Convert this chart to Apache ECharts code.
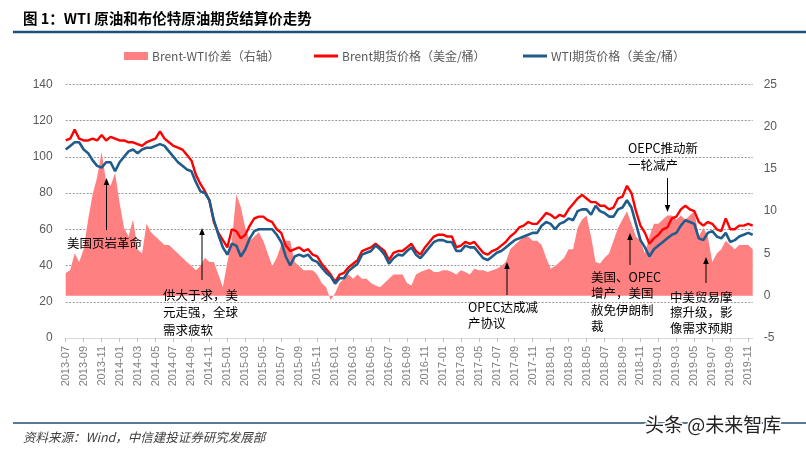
<!DOCTYPE html>
<html><head><meta charset="utf-8">
<script src="https://cdn.jsdelivr.net/npm/echarts/dist/echarts.min.js"></script>
<style>html,body{margin:0;padding:0;background:#fff}#c{width:806px;height:452px}</style>
</head><body><div id="c"></div>
<script>
// ---- axis categories: two points per month, 2013-07 .. 2019-11 ----
const startYear = 2013, startMonth = 7, monthCount = 77;
const categories = [];
for (let i = 0; i < monthCount; i++) {
  const y = startYear + Math.floor((startMonth - 1 + i) / 12);
  const m = (startMonth - 1 + i) % 12 + 1;
  const ym = y + '-' + String(m).padStart(2, '0');
  categories.push(ym + '-01', ym + '-16');
}

// ---- Brent futures settlement (USD/bbl) ----
const brent = [
 109,110,115,110,109,109,110,109,112,109,
 111,110,109,109,108,108,107,106,108,109,
 110,114,110,108,106,105,104,101,98,90,
 85,81,76,64,58,54,50,60,59,55,
 57,62,66,67,67,65,64,60,58,51,
 48,49,50,48,49,46,45,41,38,35,
 31,35,36,39,41,43,48,49,50,52,
 50,48,43,47,48,48,50,52,48,46,
 50,53,56,57,57,56,56,50,51,53,
 52,53,50,47,46,48,49,51,53,56,
 58,61,62,64,63,63,66,69,68,66,
 68,67,71,74,77,79,77,75,75,73,
 73,71,72,77,78,84,80,70,62,58,
 52,55,57,60,61,66,67,71,73,71,
 70,64,62,64,63,60,59,66,60,60,
 62,62,63,62
];

// ---- WTI futures settlement (USD/bbl) ----
const wti = [
 104,106,108,108,104,102,98,95,94,97,
 97,92,97,100,103,104,102,104,105,105,
 106,107,106,103,100,97,95,93,92,86,
 81,80,76,65,57,50,46,52,51,45,
 49,55,59,60,60,60,60,57,53,45,
 40,45,46,45,46,43,42,39,36,34,
 30,33,33,37,39,41,46,47,48,51,
 49,46,41,44,46,45.5,48,50,46,44,
 47,50,53,54,54,53,53,48,48,51,
 50,50,47,44,43,45,47,48,50,52,
 54,55,56,57,58,58,62,64,63,60,
 63,64,66,65,70,71,71,68,73,70,
 69,67,67,71,72,76,72,63,54,50,
 45,49,51,53,55,57,58,62,65,64,
 63,55,54,58,59,56,55,58,53,54,
 56,57,58,57
];

// ---- Brent-WTI spread (USD/bbl, right axis) ----
const spread = [
 2.7,3.0,5.0,4.0,5.5,9.0,12.0,14.0,17.0,13.5,
 13.0,14.5,11.0,8.0,7.0,9.0,5.5,5.0,8.5,7.5,
 7.0,6.5,6.0,6.0,5.5,5.0,4.5,4.0,3.5,3.0,
 3.5,4.5,4.0,4.0,2.5,1.0,4.0,6.5,12.0,10.5,
 8.0,6.5,7.0,7.5,6.5,5.0,3.5,4.5,6.0,6.5,
 6.5,4.0,3.5,3.0,3.0,3.0,2.5,1.5,1.0,-0.5,
 0.3,1.5,2.0,2.5,2.0,2.5,2.0,2.0,1.5,1.2,
 1.0,1.5,2.0,2.5,2.5,2.5,1.5,1.2,2.5,2.8,
 3.0,3.2,2.8,2.8,3.0,3.0,2.8,2.5,3.0,2.8,
 2.5,3.2,3.0,3.0,2.8,3.0,3.2,3.5,4.0,5.5,
 6.0,6.5,7.0,7.0,6.5,6.5,6.0,4.5,3.2,3.5,
 4.0,4.5,5.5,5.5,8.0,9.0,9.5,7.0,4.0,3.8,
 4.5,5.0,6.5,8.0,9.0,10.0,8.5,7.0,6.5,5.0,
 7.0,8.5,8.5,9.0,9.5,9.5,9.0,9.5,9.0,9.5,
 10.0,7.0,8.0,7.0,4.0,5.0,5.5,6.5,6.0,5.5,
 6.0,6.0,6.0,5.5
];

const leftTicks = {min: 0, max: 140, interval: 20};
const rightTicks = {min: -5, max: 25, interval: 5};

const names = ['Brent-WTI价差（右轴）', 'Brent期货价格（美金/桶）', 'WTI期货价格（美金/桶）'];
const colors = ['#FF8080', '#FF0000', '#1F5C8C'];

const FONT = '"Noto Sans CJK SC", "Noto Sans", sans-serif';

function arrow(x, yFrom, yTo) {
  const dir = yTo < yFrom ? 1 : -1; // 1 = pointing up
  const headLen = 7, headHalf = 2.8;
  return [
    {type: 'line', silent: true, z: 100,
     shape: {x1: x, y1: yFrom, x2: x, y2: yTo + dir * headLen * 0.8},
     style: {stroke: '#000', lineWidth: 1}},
    {type: 'polygon', silent: true, z: 100,
     shape: {points: [[x, yTo], [x - headHalf, yTo + dir * headLen], [x + headHalf, yTo + dir * headLen]]},
     style: {fill: '#000'}}
  ];
}
function note(x, top, text, lh) {
  return {type: 'text', silent: true, z: 100, x: x, y: top,
    style: {text: text, font: '12.5px ' + FONT, fill: '#000', lineHeight: lh, verticalAlign: 'top', align: 'left'}};
}

const graphics = [
  {type: 'text', x: 23, y: 18.5, silent: true,
   style: {text: '图 1：WTI 原油和布伦特原油期货结算价走势', font: 'bold 14.5px ' + FONT, fill: '#000', verticalAlign: 'middle'}},
  {type: 'line', silent: true, shape: {x1: 13, y1: 32, x2: 806, y2: 32}, style: {stroke: '#1F4E79', lineWidth: 2.5}},
  {type: 'line', silent: true, shape: {x1: 13, y1: 423, x2: 806, y2: 423}, style: {stroke: '#1F4E79', lineWidth: 1.3}},
  {type: 'text', x: 23, y: 437, silent: true,
   style: {text: '资料来源：Wind，中信建投证券研究发展部', font: 'italic 12.5px ' + FONT, fill: '#404040', verticalAlign: 'middle'}},
  {type: 'text', x: 645, y: 425, silent: true, z: 110,
   style: {text: '头条 @未来智库', font: '19px ' + FONT, fill: '#222', stroke: '#fff', lineWidth: 3, verticalAlign: 'middle'}},
  note(67, 235, '美国页岩革命', 17),
  ...arrow(106.5, 230, 178),
  note(163, 286, '供大于求，美\n元走强，全球\n需求疲软', 17.5),
  ...arrow(202, 280, 228),
  note(468, 299, 'OPEC达成减\n产协议', 16),
  ...arrow(507, 295, 262),
  note(628, 139.5, 'OEPC推动新\n一轮减产', 17),
  ...arrow(667.5, 178, 212),
  note(591, 269, '美国、OPEC\n增产，美国\n赦免伊朗制\n裁', 16.3),
  ...arrow(630, 265, 233),
  note(670, 289, '中美贸易摩\n擦升级，影\n像需求预期', 15.5),
  ...arrow(706, 283, 257)
];

function legendAt(left, idx, w, h) {
  return {left: left, top: 50, padding: 0, itemWidth: w, itemHeight: h, itemGap: 0,
    textStyle: {color: '#595959', fontSize: 12, fontFamily: FONT, padding: [0, 0, 0, -1]},
    data: [{name: names[idx], icon: 'rect', itemStyle: {color: colors[idx]}}]};
}

const chart = echarts.init(document.getElementById('c'), null, {renderer: 'canvas'});
chart.setOption({
  animation: false,
  backgroundColor: '#fff',
  textStyle: {fontFamily: FONT},
  grid: {left: 65.7, right: 53.3, top: 84.3, bottom: 114, containLabel: false},
  legend: [legendAt(124, 0, 24, 8), legendAt(314, 1, 24, 3), legendAt(523, 2, 24, 3)],
  xAxis: {
    type: 'category', data: categories, boundaryGap: false,
    axisLine: {lineStyle: {color: '#d9d9d9', width: 1}},
    axisTick: {interval: 3, length: 4, lineStyle: {color: '#bfbfbf'}},
    axisLabel: {interval: 3, rotate: 90, color: '#808080', fontSize: 11, margin: 8,
      fontFamily: 'Liberation Sans, Arial, sans-serif', formatter: v => v.slice(0, 7)}
  },
  yAxis: [
    {type: 'value', min: leftTicks.min, max: leftTicks.max, interval: leftTicks.interval,
     axisLine: {show: false}, axisTick: {show: false},
     axisLabel: {color: '#595959', fontSize: 12, margin: 13, fontFamily: 'Liberation Sans, Arial, sans-serif'},
     splitLine: {lineStyle: {color: '#9a9a9a', type: [2, 1.5], width: 1}}},
    {type: 'value', min: rightTicks.min, max: rightTicks.max, interval: rightTicks.interval, position: 'right',
     axisLine: {show: false}, axisTick: {show: false},
     axisLabel: {color: '#595959', fontSize: 12, margin: 11, fontFamily: 'Liberation Sans, Arial, sans-serif'},
     splitLine: {show: false}}
  ],
  series: [
    {name: names[0], type: 'line', yAxisIndex: 1, data: spread, symbol: 'none', z: 1,
     itemStyle: {color: colors[0]}, lineStyle: {width: 0, color: colors[0]},
     areaStyle: {color: colors[0], opacity: 1}},
    {name: names[1], type: 'line', yAxisIndex: 0, data: brent, symbol: 'none', z: 2,
     itemStyle: {color: colors[1]}, lineStyle: {width: 2.4, color: colors[1]}},
    {name: names[2], type: 'line', yAxisIndex: 0, data: wti, symbol: 'none', z: 3,
     itemStyle: {color: colors[2]}, lineStyle: {width: 2.6, color: colors[2]}}
  ],
  graphic: graphics
});
</script>
</body></html>
